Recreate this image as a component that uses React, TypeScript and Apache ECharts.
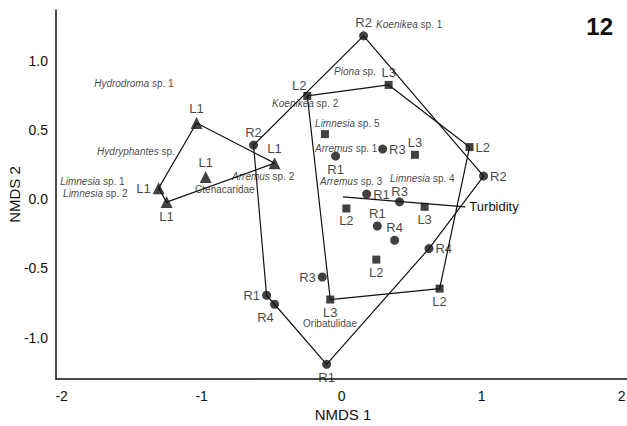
import React, { useEffect, useRef } from "react";
import * as echarts from "echarts";

// Triangles (L1 samples)
const triX = [-1.036, -1.307, -1.25, -0.479, -0.971];
const triY = [0.552, 0.081, -0.02, 0.262, 0.161];
const triLabels = ["L1", "L1", "L1", "L1", "L1"];
const triLabelPos = ["top", "left", "bottom", "top", "top"];
const triHull = [0, 3, 2, 1, 0];

// Circles (R samples)
const cirX = [-0.629, 0.157, 1.014, 0.293, -0.043, 0.179, 0.414, 0.255, 0.379, 0.624, -0.138, -0.107, -0.536, -0.479];
const cirY = [0.393, 1.183, 0.168, 0.364, 0.313, 0.038, -0.018, -0.193, -0.296, -0.356, -0.562, -1.194, -0.694, -0.759];
const cirLabels = ["R2", "R2", "R2", "R3", "R1", "R1", "R3", "R1", "R4", "R4", "R3", "R1", "R1", "R4"];
const cirLabelPos = ["top", "top", "right", "right", "bottom", "right", "topTight", "top", "top", "right", "left", "bottom", "left", "bottomLeft"];
const cirHull = [1, 2, 9, 11, 13, 12, 0, 1];

// Squares (L2/L3 samples)
const sqX = [-0.245, 0.336, 0.914, -0.119, 0.524, 0.034, 0.593, 0.248, 0.7, -0.081];
const sqY = [0.748, 0.828, 0.378, 0.472, 0.322, -0.066, -0.054, -0.436, -0.646, -0.725];
const sqLabels = ["L2", "L3", "L2", "", "L3", "L2", "L3", "L2", "L2", "L3"];
const sqLabelPos = ["topLeft", "top", "right", "top", "top", "bottom", "bottom", "bottom", "bottom", "bottom"];
const sqHull = [0, 1, 2, 8, 9, 0];

// Species / taxa labels
const taxaLabels = [
  "{i|Hydrodroma} sp. 1",
  "{i|Hydryphantes} sp.",
  "{i|Limnesia} sp. 1",
  "{i|Limnesia} sp. 2",
  "Ctenacaridae",
  "{i|Arremus} sp. 2",
  "{i|Koenikea} sp. 2",
  "{i|Koenikea} sp. 1",
  "{i|Piona} sp.",
  "{i|Limnesia} sp. 5",
  "{i|Arremus} sp. 1",
  "{i|Arremus} sp. 3",
  "{i|Limnesia} sp. 4",
  "Oribatulidae",
];
const taxaX = [-1.771, -1.75, -2.014, -1.993, -1.05, -0.786, -0.5, 0.243, -0.057, -0.193, -0.193, -0.157, 0.343, -0.279];
const taxaY = [0.835, 0.349, 0.132, 0.045, 0.074, 0.168, 0.69, 1.262, 0.922, 0.552, 0.371, 0.13, 0.148, -0.9];

// Environmental vector
const vectorName = "Turbidity";
const vectorX = [0.009, 0.884];
const vectorY = [0.018, -0.054];

const panelLabel = "12";

const FONT = "'Liberation Sans', Arial, Helvetica, sans-serif";

function labelCfg(pos: string) {
  const base: any = { show: true, color: "#111", fontSize: 13, fontFamily: FONT, distance: 2 };
  if (pos === "topLeft") return { ...base, position: "top", offset: [-8, 2] };
  if (pos === "topTight") return { ...base, position: "top", distance: 0, offset: [0, 1] };
  if (pos === "bottomLeft") return { ...base, position: "bottom", offset: [-9, 0] };
  return { ...base, position: pos };
}

function pointSeries(xs: number[], ys: number[], labels: string[], pos: string[], symbol: string, size: number) {
  return {
    type: "scatter",
    symbol,
    symbolSize: size,
    itemStyle: { color: "#111" },
    z: 4,
    data: xs.map((x, i) => ({
      value: [x, ys[i]],
      label: { ...labelCfg(pos[i]), formatter: labels[i] },
    })),
  };
}

function hullSeries(xs: number[], ys: number[], hull: number[]) {
  return {
    type: "line",
    symbol: "none",
    lineStyle: { color: "#111", width: 1.2 },
    z: 2,
    data: hull.map((i) => [xs[i], ys[i]]),
  };
}

export default function App() {
  const ref = useRef<HTMLDivElement>(null);
  useEffect(() => {
    document.body.style.margin = "0";
    const chart = echarts.init(ref.current!, null, { renderer: "svg" });
    chart.setOption({
      animation: false,
      backgroundColor: "#fff",
      grid: { left: 56, top: 10, width: 574, height: 369, containLabel: false, outerBoundsMode: "none" },
      xAxis: {
        type: "value",
        min: -2.04,
        max: 2.06,
        name: "NMDS 1",
        nameLocation: "middle",
        nameGap: 28,
        nameMoveOverlap: false,
        nameTextStyle: { fontSize: 15, color: "#111", fontFamily: FONT },
        axisLine: { show: true, onZero: false, lineStyle: { color: "#111", width: 1.5 } },
        axisTick: { show: false },
        splitLine: { show: false },
        axisLabel: {
          fontSize: 14,
          color: "#111",
          fontFamily: FONT,
          margin: 10,
          formatter: (v: number) => (Math.abs(v - Math.round(v)) < 1e-9 ? String(Math.round(v)) : ""),
        },
      },
      yAxis: {
        type: "value",
        min: -1.3,
        max: 1.37,
        name: "NMDS 2",
        nameLocation: "middle",
        nameGap: 34,
        nameMoveOverlap: false,
        nameTextStyle: { fontSize: 15, color: "#111", fontFamily: FONT },
        axisLine: { show: true, onZero: false, lineStyle: { color: "#111", width: 1.5 } },
        axisTick: { show: false },
        splitLine: { show: false },
        axisLabel: {
          fontSize: 14,
          color: "#111",
          fontFamily: FONT,
          margin: 8,
          formatter: (v: number) => (Math.abs(v * 2 - Math.round(v * 2)) < 1e-9 ? v.toFixed(1) : ""),
        },
      },
      graphic: [
        {
          type: "text",
          right: 14,
          top: 14,
          style: { text: panelLabel, fontSize: 24, fontWeight: "bold", fill: "#111", fontFamily: FONT },
        },
      ],
      series: [
        hullSeries(triX, triY, triHull),
        hullSeries(cirX, cirY, cirHull),
        hullSeries(sqX, sqY, sqHull),
        {
          type: "line",
          symbol: "none",
          lineStyle: { color: "#111", width: 1.2 },
          z: 2,
          data: vectorX.map((x, i) => [x, vectorY[i]]),
          endLabel: { show: true, formatter: vectorName, fontSize: 13, color: "#111", fontFamily: FONT, distance: 4 },
        },
        pointSeries(triX, triY, triLabels, triLabelPos, "triangle", 12),
        pointSeries(cirX, cirY, cirLabels, cirLabelPos, "circle", 9),
        pointSeries(sqX, sqY, sqLabels, sqLabelPos, "rect", 8),
        {
          type: "scatter",
          symbolSize: 1,
          itemStyle: { color: "rgba(0,0,0,0)" },
          z: 5,
          data: taxaX.map((x, i) => [x, taxaY[i]]),
          label: {
            show: true,
            position: "right",
            distance: 0,
            fontSize: 10,
            color: "#111",
            fontFamily: FONT,
            formatter: (p: any) => taxaLabels[p.dataIndex],
            rich: { i: { fontStyle: "italic", fontSize: 10, color: "#111", fontFamily: FONT } },
          },
        },
      ],
    });
    return () => chart.dispose();
  }, []);
  return <div ref={ref} style={{ width: 627, height: 426, position: "absolute", left: 0, top: 0 }} />;
}
